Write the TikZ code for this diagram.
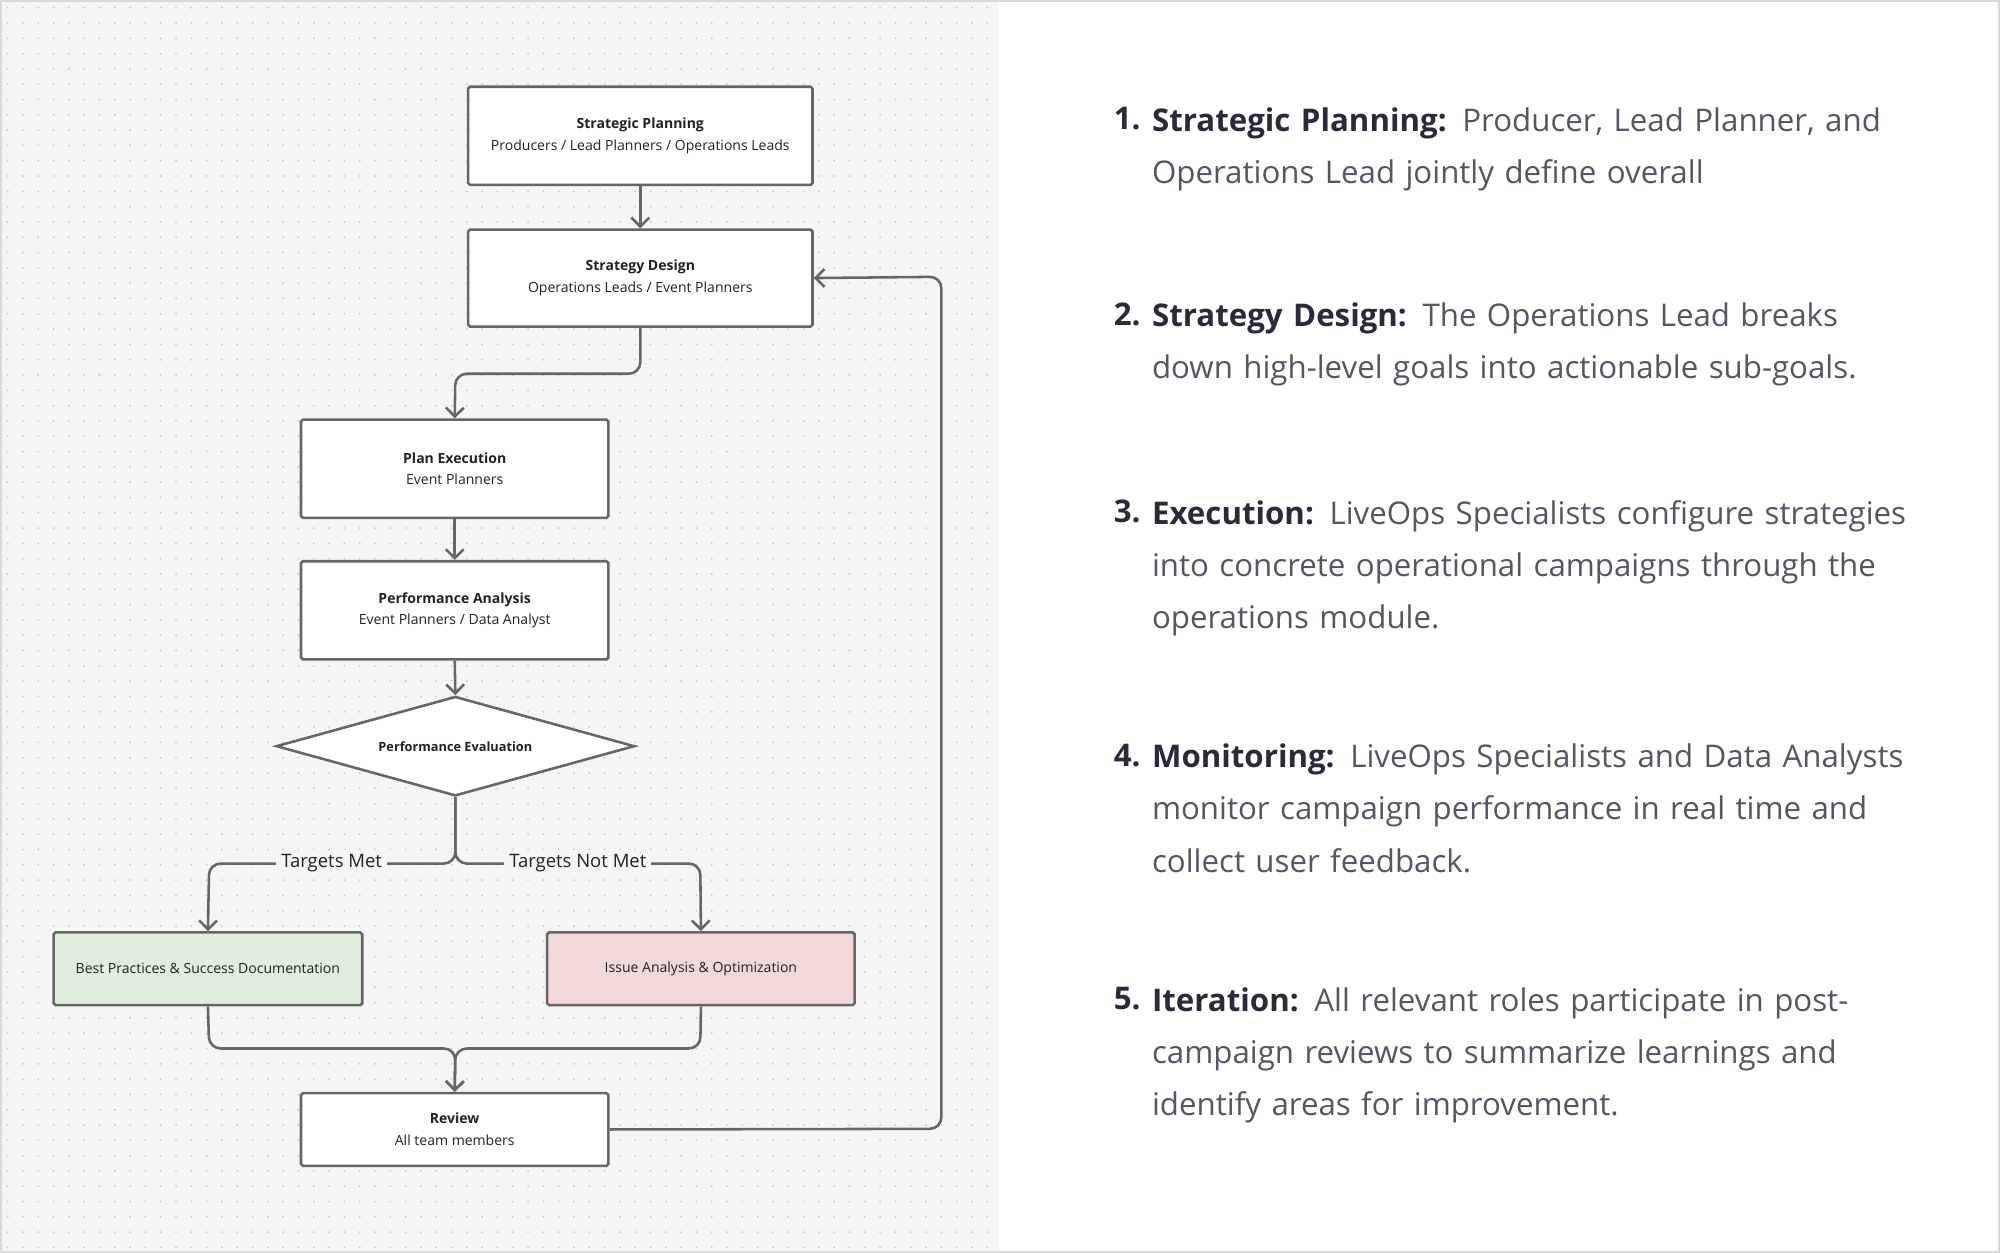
\documentclass[tikz,border=0pt]{standalone}
\usepackage{fontspec}
\setmainfont{Open Sans}
\usetikzlibrary{shapes.geometric,arrows.meta}
\definecolor{bx}{HTML}{666666}
\definecolor{txt}{HTML}{222222}
\definecolor{rt}{HTML}{555566}
\definecolor{rb}{HTML}{2A2A3A}
\definecolor{gfill}{HTML}{E1EDDD}
\definecolor{pfill}{HTML}{F1D9D9}
\begin{document}
\begin{tikzpicture}[x=1pt,y=-1pt,
 box/.style={draw=bx,line width=2pt,fill=white,rounded corners=1.5pt,align=center,font=\fontsize{11}{17}\selectfont,text=txt,inner sep=0pt},
 conn/.style={draw=bx,line width=2pt,rounded corners=9pt,-{Straight Barb[length=7pt,width=14pt,line width=2pt]}},
 lab/.style={font=\fontsize{14.5}{16}\selectfont,text=txt,inner sep=4pt,fill=black!4},
 num/.style={anchor=north west,font=\fontsize{24.5}{41}\selectfont\bfseries,text=rb,inner sep=0pt},
 item/.style={anchor=north west,font=\fontsize{24.5}{41}\selectfont,text=rt,inner sep=0pt,text width=640pt,align=left}]
\useasboundingbox (0,0) rectangle (1568,982);
\fill[white] (0,0) rectangle (1568,982);
\fill[black!4] (0,0) rectangle (783,982);
\foreach \i in {0,...,64}{\foreach \j in {0,...,81}{\fill[black!22] (6+\i*12,6+\j*12) circle (0.8pt);}}
\draw[black!15,line width=1.5pt] (0.75,0.75) rectangle (1567.25,981.25);
% nodes
\node[box,minimum width=270pt,minimum height=77pt] (sp) at (502,106.5) {\textbf{Strategic Planning}\\Producers / Lead Planners / Operations Leads};
\node[box,minimum width=270pt,minimum height=76pt] (sd) at (502,218) {\textbf{Strategy Design}\\Operations Leads / Event Planners};
\node[box,minimum width=241pt,minimum height=77pt] (pe) at (356.5,367.5) {\textbf{Plan Execution}\\Event Planners};
\node[box,minimum width=241pt,minimum height=77pt] (pa) at (356.5,478.5) {\textbf{Performance Analysis}\\Event Planners / Data Analyst};
\node[diamond,draw=bx,line width=2pt,fill=white,aspect=3.6,minimum width=281pt,minimum height=78pt,inner sep=0pt,font=\fontsize{10}{12}\selectfont\bfseries,text=txt] (ev) at (357,585) {Performance Evaluation};
\node[box,fill=gfill,minimum width=242pt,minimum height=57pt] (bp) at (163,759.5) {Best Practices \& Success Documentation};
\node[box,fill=pfill,minimum width=241pt,minimum height=57pt] (ia) at (549.5,759.5) {Issue Analysis \& Optimization};
\node[box,minimum width=241pt,minimum height=57pt] (rv) at (356.5,885.5) {\textbf{Review}\\All team members};
% connectors
\draw[conn] (sp.south) -- (sd.north);
\draw[conn] (sd.south) -- (502,293) -- (357,293) -- (pe.north);
\draw[conn] (pe.south) -- (pa.north);
\draw[conn] (pa.south) -- (ev.north);
\draw[conn] (ev.south) -- (357,677) -- (164,677) -- (bp.north);
\draw[conn] (ev.south) -- (357,677) -- (549,677) -- (ia.north);
\node[lab] at (260,677) {Targets Met};
\node[lab] at (453,677) {Targets Not Met};
\draw[conn] (bp.south) -- (164,822) -- (357,822) -- (rv.north);
\draw[conn] (ia.south) -- (549,822) -- (357,822) -- (rv.north);
\draw[conn] (rv.east) -- (738,885) -- (738,217) -- (sd.east);
% right text
\node[num] (n1) at (873,84) {1.};
\node[item] (t1) at (903,84) {\textbf{\color{rb}Strategic Planning:} Producer, Lead Planner, and\\Operations Lead jointly define overall};
\node[num] (n2) at (873,237) {2.};
\node[item] (t2) at (903,237) {\textbf{\color{rb}Strategy Design:} The Operations Lead breaks\\down high-level goals into actionable sub-goals.};
\node[num] (n3) at (873,392) {3.};
\node[item] (t3) at (903,392) {\textbf{\color{rb}Execution:} LiveOps Specialists configure strategies\\into concrete operational campaigns through the\\operations module.};
\node[num] (n4) at (873,583) {4.};
\node[item] (t4) at (903,583) {\textbf{\color{rb}Monitoring:} LiveOps Specialists and Data Analysts\\monitor campaign performance in real time and\\collect user feedback.};
\node[num] (n5) at (873,774) {5.};
\node[item] (t5) at (903,774) {\textbf{\color{rb}Iteration:} All relevant roles participate in post-\\campaign reviews to summarize learnings and\\identify areas for improvement.};
\end{tikzpicture}
\end{document}
